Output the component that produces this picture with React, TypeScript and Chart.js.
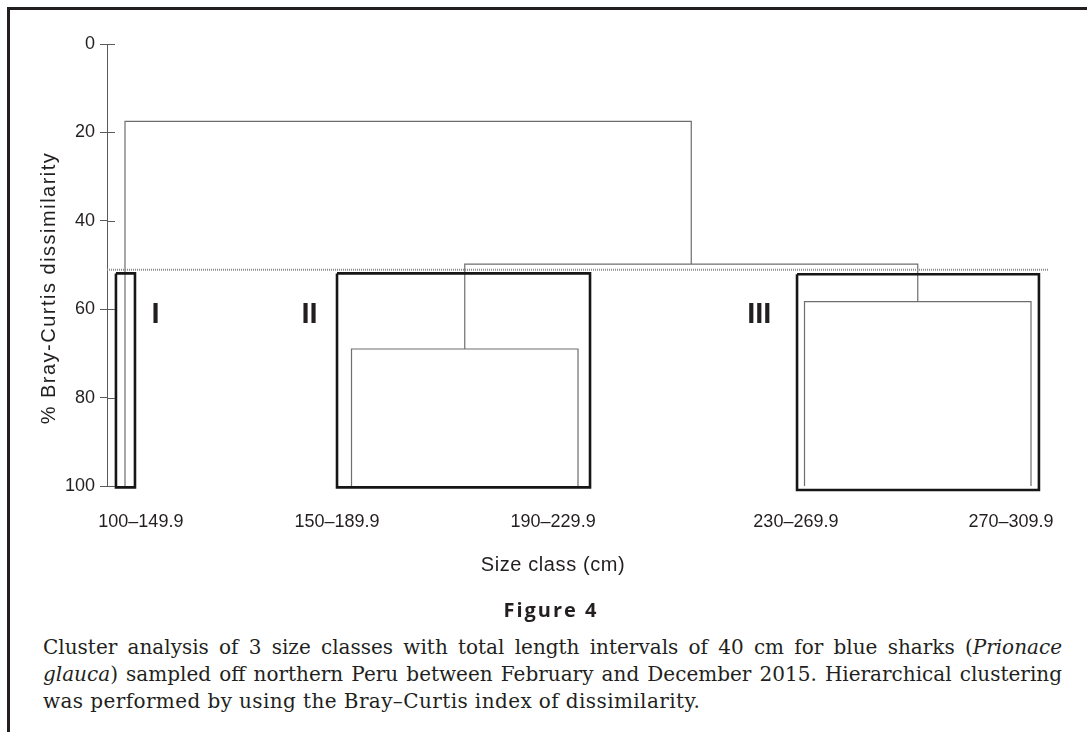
import { useEffect, useRef } from "react";
import { Chart, registerables } from "chart.js";

Chart.register(...registerables);

// Size classes (total length, cm), in leaf order along the x axis
const SIZE_CLASSES = ["100–149.9", "150–189.9", "190–229.9", "230–269.9", "270–309.9"];

// Agglomeration schedule: node ids 0–4 are size classes, 5+ are earlier merges
const LINK_LEFT = [1, 3, 5, 0];
const LINK_RIGHT = [2, 4, 6, 7];
const LINK_DISSIMILARITY = [69.0, 58.3, 49.8, 17.5];

// Level at which size classes sit (% dissimilarity)
const LEAF_LEVEL = 100;

// Dissimilarity at which the tree is cut into groups
const CUT_LEVEL = 51.1;

// Groups formed below the cut and their enclosing frames (leaf units / % dissimilarity)
const GROUP_NAMES = ["I", "II", "III"];
const GROUP_LEFT = [-0.04, 0.936, 2.967];
const GROUP_RIGHT = [0.044, 2.053, 4.035];
const GROUP_TOP = [51.9, 51.9, 52.1];
const GROUP_BOTTOM = [100.3, 100.3, 100.9];
const GROUP_NAME_X = [0.135, 0.815, 2.8];
const GROUP_NAME_Y = [61.4, 61.4, 61.4];

// Where each size-class label sits along the leaf axis
const CLASS_LABEL_X = [0.07, 0.936, 1.89, 2.962, 3.912];

const X_RANGE = [-0.0795, 4.075];
const Y_RANGE = [0, 100];
const Y_STEP = 20;

const INK = "#231f20";
const AXIS_GREY = "#5a5a5a";
const LINK_GREY = "#6e6e6e";
const SANS = '"Liberation Sans", Arial, sans-serif';

type Pt = { x: number; y: number };

function buildDatasets() {
  const nodeX: number[] = SIZE_CLASSES.map((_, i) => i);
  const nodeY: number[] = SIZE_CLASSES.map(() => LEAF_LEVEL);
  const sets: any[] = [];

  LINK_LEFT.forEach((a, j) => {
    const b = LINK_RIGHT[j];
    const h = LINK_DISSIMILARITY[j];
    const pts: Pt[] = [
      { x: nodeX[a], y: nodeY[a] },
      { x: nodeX[a], y: h },
      { x: nodeX[b], y: h },
      { x: nodeX[b], y: nodeY[b] },
    ];
    sets.push({
      data: pts,
      borderColor: LINK_GREY,
      borderWidth: 1.2,
      order: 3,
    });
    nodeX.push((nodeX[a] + nodeX[b]) / 2);
    nodeY.push(h);
  });

  GROUP_NAMES.forEach((_, g) => {
    const l = GROUP_LEFT[g];
    const r = GROUP_RIGHT[g];
    const t = GROUP_TOP[g];
    const btm = GROUP_BOTTOM[g];
    sets.push({
      data: [
        { x: l, y: t },
        { x: r, y: t },
        { x: r, y: btm },
        { x: l, y: btm },
        { x: l, y: t },
      ],
      borderColor: "#161616",
      borderWidth: 2.6,
      order: 2,
    });
  });

  sets.push({
    data: [
      { x: X_RANGE[0], y: CUT_LEVEL },
      { x: X_RANGE[1], y: CUT_LEVEL },
    ],
    borderColor: "#8a8a8a",
    borderWidth: 2,
    borderDash: [1, 1],
    order: 1,
  });

  return sets.map((s) => ({
    showLine: true,
    fill: false,
    tension: 0,
    pointRadius: 0,
    pointHoverRadius: 0,
    borderCapStyle: "butt",
    borderJoinStyle: "miter",
    clip: false,
    ...s,
  }));
}

const dendrogramExtras = {
  id: "dendrogramExtras",
  afterDraw(chart: any) {
    const { ctx, chartArea, scales } = chart;
    const xs = scales.x;
    const ys = scales.y;
    ctx.save();

    // tick marks continue across the axis line
    ctx.strokeStyle = AXIS_GREY;
    ctx.lineWidth = 1;
    for (let v = Y_RANGE[0]; v <= Y_RANGE[1]; v += Y_STEP) {
      const py = Math.round(ys.getPixelForValue(v)) + 0.5;
      ctx.beginPath();
      ctx.moveTo(chartArea.left, py);
      ctx.lineTo(chartArea.left + 8, py);
      ctx.stroke();
    }

    // group numerals
    ctx.fillStyle = INK;
    ctx.font = `bold 29px ${SANS}`;
    ctx.textAlign = "center";
    ctx.textBaseline = "middle";
    GROUP_NAMES.forEach((name, g) => {
      ctx.fillText(name, xs.getPixelForValue(GROUP_NAME_X[g]), ys.getPixelForValue(GROUP_NAME_Y[g]));
    });

    // axis titles
    ctx.font = `20px ${SANS}`;
    (ctx as any).letterSpacing = "0.6px";
    ctx.fillText("Size class (cm)", 553, 565);
    (ctx as any).letterSpacing = "1.5px";
    ctx.translate(49, 288);
    ctx.rotate(-Math.PI / 2);
    ctx.fillText("% Bray-Curtis dissimilarity", 0, 0);
    ctx.restore();
  },
};

const justified = { textAlign: "justify", textAlignLast: "justify" } as const;

export default function App() {
  const ref = useRef<HTMLCanvasElement>(null);

  useEffect(() => {
    const canvas = ref.current;
    if (!canvas) return;
    const chart = new Chart(canvas, {
      type: "scatter",
      data: { datasets: buildDatasets() as any },
      options: {
        responsive: false,
        animation: false,
        devicePixelRatio: 1,
        events: [],
        layout: { padding: { left: 0, top: 44, right: 39, bottom: 34 } },
        plugins: {
          legend: { display: false },
          tooltip: { enabled: false },
        },
        scales: {
          x: {
            type: "linear",
            min: X_RANGE[0],
            max: X_RANGE[1],
            grid: { display: false },
            border: { display: false },
            afterBuildTicks: (s: any) => {
              s.ticks = CLASS_LABEL_X.map((v) => ({ value: v }));
            },
            afterFit: (s: any) => {
              s.height = 80;
            },
            ticks: {
              autoSkip: false,
              maxRotation: 0,
              padding: 17,
              color: INK,
              font: { family: SANS, size: 18 },
              callback: (_v: any, i: number) => SIZE_CLASSES[i],
            },
          },
          y: {
            type: "linear",
            reverse: true,
            min: Y_RANGE[0],
            max: Y_RANGE[1],
            afterFit: (s: any) => {
              s.width = 107;
            },
            grid: {
              drawOnChartArea: false,
              drawTicks: true,
              tickLength: 7,
              color: AXIS_GREY,
              lineWidth: 1,
            },
            border: { display: true, color: AXIS_GREY, width: 1 },
            ticks: {
              stepSize: Y_STEP,
              padding: 5,
              color: INK,
              font: { family: SANS, size: 18 },
            },
          },
        },
      } as any,
      plugins: [dendrogramExtras],
    });
    return () => chart.destroy();
  }, []);

  return (
    <div
      style={{
        position: "fixed",
        left: 0,
        top: 0,
        width: 1087,
        height: 732,
        overflow: "hidden",
        background: "#fff",
      }}
    >
      <div
        style={{
          position: "absolute",
          left: 7,
          top: 7,
          width: 1080,
          height: 725,
          boxSizing: "border-box",
          borderTop: `3px solid ${INK}`,
          borderLeft: `3px solid ${INK}`,
        }}
      />
      <canvas
        ref={ref}
        width={1087}
        height={600}
        style={{ position: "absolute", left: 0, top: 0, width: 1087, height: 600 }}
      />
      <div
        style={{
          position: "absolute",
          left: 351,
          top: 598,
          width: 400,
          textAlign: "center",
          fontFamily: '"Open Sans", sans-serif',
          fontWeight: 700,
          fontSize: 20,
          lineHeight: "24px",
          letterSpacing: "2px",
          color: INK,
        }}
      >
        Figure 4
      </div>
      <div
        style={{
          position: "absolute",
          left: 43,
          top: 634,
          width: 1019,
          fontFamily: '"DejaVu Serif", serif',
          fontSize: 20,
          lineHeight: "27px",
          color: INK,
        }}
      >
        <div style={justified}>
          Cluster analysis of 3 size classes with total length intervals of 40 cm for blue sharks (<i>Prionace</i>
        </div>
        <div style={justified}>
          <i>glauca</i>) sampled off northern Peru between February and December 2015. Hierarchical clustering
        </div>
        <div style={{ letterSpacing: "0.4px" }}>
          was performed by using the Bray–Curtis index of dissimilarity.
        </div>
      </div>
    </div>
  );
}
